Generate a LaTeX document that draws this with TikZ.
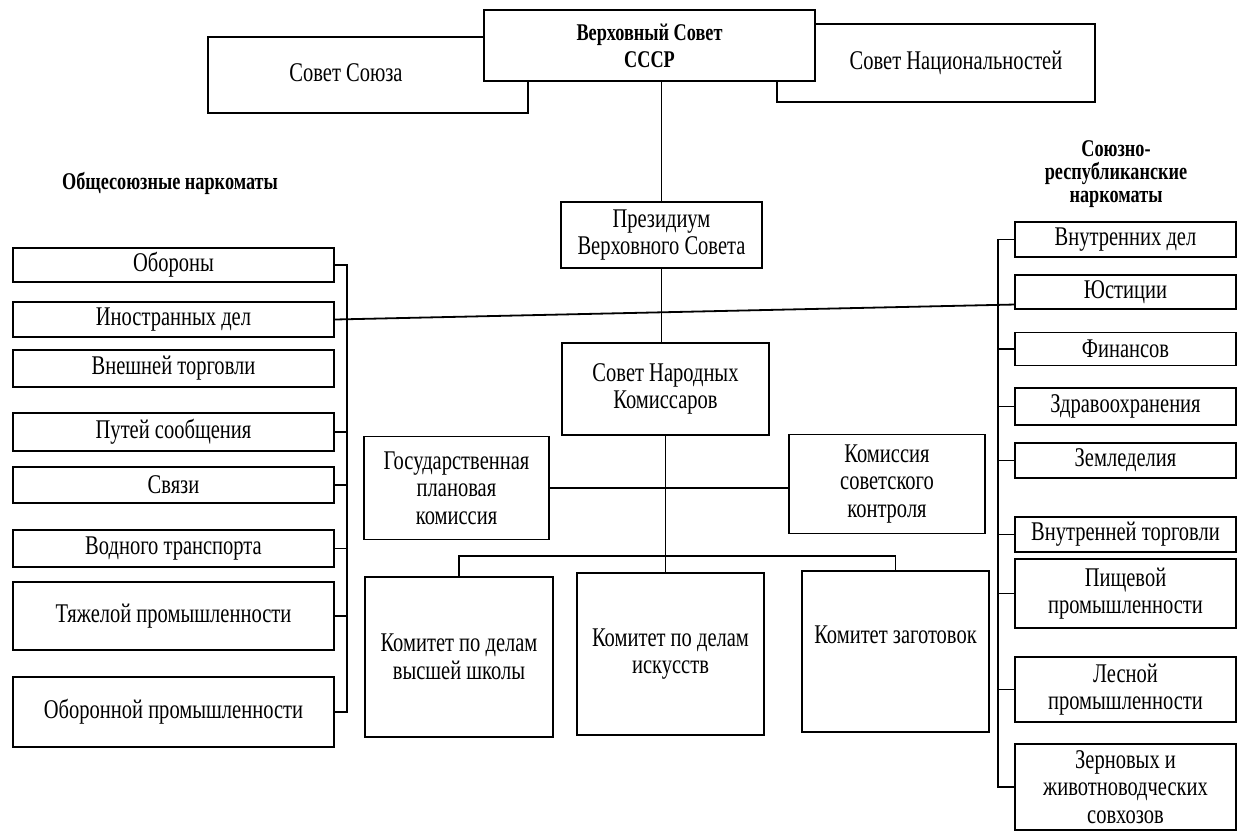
\documentclass[tikz,border=0pt]{standalone}
\usepackage{fontspec}
\setmainfont{Liberation Serif}[FakeStretch=0.76]
\usetikzlibrary{calc}
\tikzset{
  box/.style={draw, line width=1.8pt, fill=white, inner sep=2pt, align=center,
              font=\fontsize{27}{27.5}\selectfont},
  txt/.style={inner sep=0pt, align=center, font=\fontsize{27}{27.5}\selectfont},
  head/.style={inner sep=0pt, align=center, font=\bfseries\fontsize{24}{23}\selectfont},
  wire/.style={line width=1.8pt},
}
\begin{document}
\begin{tikzpicture}[x=1pt,y=-1pt]
\useasboundingbox (0,0) rectangle (1239,836);

% --- top level ---
\node[box, minimum width=320pt, minimum height=76pt] (ss) at (368,75) {};
\node[txt] (ssT) at (346,73) {Совет Союза};
\node[box, minimum width=318pt, minimum height=78pt] (sn) at (936,63) {};
\node[txt] (snT) at (956,63) {Совет Национальностей};
\node[box, minimum width=331pt, minimum height=71pt,
      font=\bfseries\fontsize{24}{27}\selectfont] (vs) at (649.5,45.5) {Верховный Совет\\СССР};

% --- headings ---
\node[head] (hl) at (170,183) {Общесоюзные наркоматы};
\node[head] (hr) at (1116,174.5) {Союзно-\\республиканские\\наркоматы};

% --- centre ---
\node[box, minimum width=201pt, minimum height=66pt] (prez) at (661.5,235) {Президиум\\Верховного Совета};
\node[box, minimum width=207pt, minimum height=92pt] (snk) at (665.5,389) {Совет Народных\\Комиссаров};
\node[box, minimum width=185pt, minimum height=103pt] (gp) at (456.5,488) {Государственная\\плановая\\комиссия};
\node[box, minimum width=196pt, minimum height=99pt] (ksk) at (887,484) {Комиссия\\советского\\контроля};
\node[box, minimum width=188pt, minimum height=160pt] (k1) at (459,657) {Комитет по делам\\высшей школы};
\node[box, minimum width=187pt, minimum height=162pt] (k2) at (670.5,654) {Комитет по делам\\искусств};
\node[box, minimum width=187pt, minimum height=161pt] (k3) at (895.5,651.5) {};
\node[txt] (k3T) at (895.5,635) {Комитет заготовок};

% --- left column ---
\node[box, minimum width=321pt, minimum height=34pt] (ob) at (173.5,265) {Обороны};
\node[box, minimum width=321pt, minimum height=35pt] (in) at (173.5,319.5) {Иностранных дел};
\node[box, minimum width=321pt, minimum height=37pt] (vt) at (173.5,368.5) {Внешней торговли};
\node[box, minimum width=321pt, minimum height=38pt] (ps) at (173.5,432) {Путей сообщения};
\node[box, minimum width=321pt, minimum height=36pt] (sv) at (173.5,485) {Связи};
\node[box, minimum width=321pt, minimum height=37pt] (vod) at (173.5,548.5) {Водного транспорта};
\node[box, minimum width=321pt, minimum height=68pt] (tp) at (173.5,616) {Тяжелой промышленности};
\node[box, minimum width=321pt, minimum height=70pt] (op) at (173.5,712) {Оборонной промышленности};

% --- right column ---
\node[box, minimum width=221pt, minimum height=35pt] (vd) at (1125.5,239.5) {Внутренних дел};
\node[box, minimum width=221pt, minimum height=34pt] (yu) at (1125.5,292) {Юстиции};
\node[box, minimum width=221pt, minimum height=33pt] (fin) at (1125.5,349) {Финансов};
\node[box, minimum width=221pt, minimum height=37pt] (zdr) at (1125.5,406.5) {Здравоохранения};
\node[box, minimum width=221pt, minimum height=35pt] (zem) at (1125.5,460.5) {Земледелия};
\node[box, minimum width=221pt, minimum height=35pt] (vtorg) at (1125.5,534.5) {Внутренней торговли};
\node[box, minimum width=221pt, minimum height=69pt] (pish) at (1125.5,593.5) {Пищевой\\промышленности};
\node[box, minimum width=221pt, minimum height=65pt] (les) at (1125.5,689.5) {Лесной\\промышленности};
\node[box, minimum width=221pt, minimum height=86pt] (zer) at (1125.5,787) {Зерновых и\\животноводческих\\совхозов};

% --- connectors ---
\coordinate (lb) at (347,0);
\coordinate (rb) at (998,0);
\coordinate (bus) at (666,556);

\draw[wire] (prez.north) -- (prez.north |- vs.south);
\draw[wire] (prez.south) -- (prez.south |- snk.north);
\draw[wire] (in.east) -- ($(yu.south west)!0.15!(yu.north west)$);
\draw[wire] (gp.east) -- (gp.east -| ksk.west);
\draw[wire] (snk.south) -- (snk.south |- k2.north);
\draw[wire] (k1.north) -- (k1.north |- bus) -- (k3.north |- bus) -- (k3.north);

\draw[wire] (ob.east) -- (ob.east -| lb) -- (op.east -| lb) -- (op.east);
\foreach \n in {ps,sv,vod,tp} \draw[wire] (\n.east) -- (\n.east -| lb);

\draw[wire] (vd.west) -- (vd.west -| rb) -- (zer.west -| rb) -- (zer.west);
\foreach \n in {fin,zdr,zem,vtorg,pish,les} \draw[wire] (\n.west) -- (\n.west -| rb);
\end{tikzpicture}
\end{document}
